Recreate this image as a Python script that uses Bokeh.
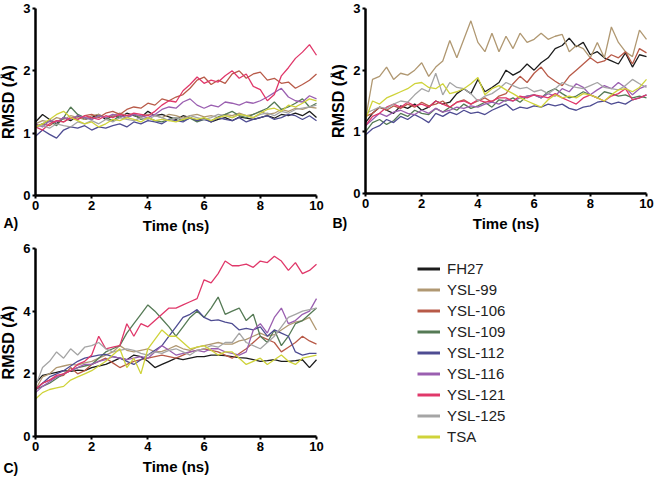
from bokeh.plotting import figure
from bokeh.layouts import column, row
from bokeh.models import Label, Legend, LegendItem, FixedTicker, Range1d
from bokeh.embed import file_html
from bokeh.resources import INLINE

TIME = [0.0, 0.25, 0.5, 0.75, 1.0, 1.25, 1.5, 1.75, 2.0, 2.25,
        2.5, 2.75, 3.0, 3.25, 3.5, 3.75, 4.0, 4.25, 4.5, 4.75,
        5.0, 5.25, 5.5, 5.75, 6.0, 6.25, 6.5, 6.75, 7.0, 7.25,
        7.5, 7.75, 8.0, 8.25, 8.5, 8.75, 9.0, 9.25, 9.5, 9.75,
        10.0]

SERIES = ["FH27", "YSL-99", "YSL-106", "YSL-109", "YSL-112",
          "YSL-116", "YSL-121", "YSL-125", "TSA"]
COLORS = ["#1c1c1c", "#b09872", "#b85a48", "#557a55", "#4e4c92",
          "#9a5fb0", "#e0386a", "#a5a5a5", "#cfd33a"]
X_TICKS = [0, 2, 4, 6, 8, 10]
Y_TICKS_AB = [0, 1, 2, 3]
Y_TICKS_C = [0, 2, 4, 6]

# ---- Panel A ----
A_FH27 = [1.18, 1.30, 1.22, 1.15, 1.25, 1.20, 1.28, 1.22, 1.25, 1.30,
          1.22, 1.28, 1.25, 1.32, 1.28, 1.25, 1.35, 1.28, 1.30, 1.26,
          1.22, 1.28, 1.25, 1.20, 1.24, 1.18, 1.22, 1.25, 1.20, 1.26,
          1.24, 1.22, 1.25, 1.28, 1.24, 1.30, 1.28, 1.32, 1.28, 1.35,
          1.25]
A_YSL99 = [1.15, 1.20, 1.18, 1.25, 1.22, 1.28, 1.25, 1.22, 1.28, 1.30,
           1.25, 1.28, 1.32, 1.28, 1.30, 1.26, 1.30, 1.28, 1.25, 1.30,
           1.28, 1.24, 1.28, 1.30, 1.26, 1.28, 1.25, 1.30, 1.28, 1.32,
           1.28, 1.30, 1.35, 1.30, 1.32, 1.38, 1.35, 1.40, 1.38, 1.42,
           1.40]
A_YSL106 = [1.10, 1.15, 1.12, 1.20, 1.18, 1.25, 1.22, 1.28, 1.30, 1.25,
            1.32, 1.35, 1.30, 1.38, 1.42, 1.40, 1.48, 1.45, 1.55, 1.52,
            1.58, 1.62, 1.72, 1.85, 1.90, 1.78, 1.85, 1.80, 1.95, 2.00,
            1.88, 1.95, 1.98, 1.85, 1.88, 1.80, 1.82, 1.72, 1.78, 1.85,
            1.95]
A_YSL109 = [1.10, 1.15, 1.20, 1.12, 1.25, 1.42, 1.30, 1.25, 1.22, 1.28,
            1.25, 1.20, 1.28, 1.25, 1.30, 1.22, 1.25, 1.20, 1.18, 1.22,
            1.25, 1.20, 1.24, 1.18, 1.22, 1.20, 1.26, 1.30, 1.35, 1.28,
            1.25, 1.30, 1.35, 1.40, 1.50, 1.38, 1.42, 1.48, 1.55, 1.42,
            1.48]
A_YSL112 = [0.95, 1.05, 0.98, 0.92, 1.05, 1.10, 1.08, 1.12, 1.05, 1.10,
            1.08, 1.12, 1.15, 1.10, 1.18, 1.15, 1.20, 1.18, 1.15, 1.22,
            1.20, 1.18, 1.25, 1.20, 1.22, 1.18, 1.25, 1.22, 1.20, 1.25,
            1.18, 1.22, 1.25, 1.28, 1.22, 1.25, 1.30, 1.28, 1.22, 1.28,
            1.20]
A_YSL116 = [1.15, 1.10, 1.20, 1.18, 1.25, 1.22, 1.28, 1.25, 1.22, 1.28,
            1.25, 1.30, 1.28, 1.25, 1.30, 1.28, 1.25, 1.30, 1.38, 1.42,
            1.40, 1.50, 1.55, 1.45, 1.40, 1.45, 1.42, 1.50, 1.48, 1.45,
            1.50, 1.48, 1.52, 1.58, 1.65, 1.72, 1.58, 1.52, 1.50, 1.60,
            1.55]
A_YSL121 = [1.10, 1.05, 1.15, 1.20, 1.18, 1.25, 1.22, 1.28, 1.25, 1.22,
            1.28, 1.25, 1.30, 1.28, 1.32, 1.30, 1.28, 1.35, 1.45, 1.52,
            1.50, 1.68, 1.78, 1.90, 1.80, 1.85, 1.82, 1.92, 2.00, 1.88,
            1.95, 1.75, 1.70, 1.52, 1.62, 1.92, 2.05, 2.20, 2.30, 2.42,
            2.25]
A_YSL125 = [1.10, 1.12, 1.08, 1.15, 1.12, 1.10, 1.18, 1.15, 1.20, 1.15,
            1.22, 1.18, 1.25, 1.22, 1.20, 1.25, 1.22, 1.28, 1.25, 1.20,
            1.25, 1.22, 1.28, 1.25, 1.22, 1.25, 1.30, 1.28, 1.25, 1.30,
            1.28, 1.25, 1.30, 1.32, 1.28, 1.35, 1.32, 1.38, 1.40, 1.42,
            1.45]
A_TSA = [1.10, 1.15, 1.22, 1.30, 1.35, 1.25, 1.20, 1.15, 1.18, 1.10,
         1.15, 1.22, 1.20, 1.25, 1.22, 1.18, 1.25, 1.20, 1.22, 1.20,
         1.18, 1.22, 1.25, 1.22, 1.25, 1.20, 1.25, 1.28, 1.25, 1.30,
         1.28, 1.25, 1.32, 1.38, 1.40, 1.35, 1.45, 1.42, 1.48, 1.55,
         1.52]

# ---- Panel B ----
B_FH27 = [1.15, 1.30, 1.40, 1.35, 1.30, 1.42, 1.38, 1.45, 1.35, 1.40,
          1.50, 1.45, 1.48, 1.62, 1.70, 1.62, 1.85, 1.65, 1.72, 1.80,
          2.00, 1.92, 1.98, 2.10, 2.00, 2.12, 2.20, 2.35, 2.40, 2.52,
          2.38, 2.45, 2.25, 2.30, 2.20, 2.15, 2.10, 2.28, 2.05, 2.25,
          2.22]
B_YSL99 = [1.20, 1.85, 1.90, 2.05, 1.85, 1.95, 1.92, 2.00, 2.12, 1.90,
           2.05, 2.15, 2.48, 2.20, 2.50, 2.80, 2.45, 2.30, 2.60, 2.30,
           2.55, 2.35, 2.60, 2.45, 2.50, 2.60, 2.50, 2.55, 2.58, 2.30,
           2.40, 2.35, 2.20, 2.45, 2.20, 2.70, 2.45, 2.30, 2.22, 2.65,
           2.50]
B_YSL106 = [1.25, 1.30, 1.40, 1.35, 1.42, 1.38, 1.45, 1.40, 1.48, 1.42,
            1.45, 1.50, 1.40, 1.48, 1.52, 1.45, 1.50, 1.55, 1.48, 1.58,
            1.62, 1.78, 1.90, 1.80, 1.95, 2.05, 1.90, 1.82, 1.75, 1.90,
            2.00, 2.10, 2.20, 2.12, 2.15, 2.25, 2.20, 2.30, 2.10, 2.35,
            2.28]
B_YSL109 = [1.00, 1.15, 1.20, 1.12, 1.18, 1.30, 1.25, 1.35, 1.30, 1.28,
            1.38, 1.32, 1.40, 1.35, 1.45, 1.38, 1.42, 1.48, 1.40, 1.52,
            1.50, 1.55, 1.48, 1.58, 1.60, 1.55, 1.65, 1.70, 1.62, 1.55,
            1.58, 1.65, 1.60, 1.55, 1.65, 1.62, 1.58, 1.60, 1.55, 1.58,
            1.55]
B_YSL112 = [0.95, 1.05, 1.10, 1.20, 1.15, 1.25, 1.20, 1.28, 1.22, 1.15,
            1.30, 1.25, 1.32, 1.28, 1.35, 1.30, 1.32, 1.28, 1.35, 1.40,
            1.45, 1.35, 1.40, 1.38, 1.42, 1.40, 1.45, 1.42, 1.45, 1.38,
            1.35, 1.40, 1.42, 1.48, 1.50, 1.45, 1.48, 1.45, 1.52, 1.55,
            1.60]
B_YSL116 = [1.10, 1.20, 1.30, 1.25, 1.32, 1.35, 1.30, 1.28, 1.35, 1.30,
            1.38, 1.32, 1.35, 1.40, 1.38, 1.42, 1.40, 1.45, 1.48, 1.45,
            1.52, 1.50, 1.55, 1.58, 1.60, 1.55, 1.62, 1.58, 1.70, 1.65,
            1.78, 1.72, 1.60, 1.68, 1.75, 1.70, 1.80, 1.72, 1.60, 1.70,
            1.75]
B_YSL121 = [1.10, 1.25, 1.30, 1.40, 1.45, 1.40, 1.48, 1.42, 1.45, 1.40,
            1.50, 1.45, 1.40, 1.48, 1.50, 1.45, 1.52, 1.48, 1.50, 1.55,
            1.55, 1.50, 1.58, 1.55, 1.60, 1.58, 1.55, 1.62, 1.55, 1.50,
            1.45, 1.55, 1.60, 1.55, 1.50, 1.58, 1.62, 1.70, 1.52, 1.55,
            1.60]
B_YSL125 = [1.30, 1.35, 1.40, 1.38, 1.45, 1.50, 1.48, 1.60, 1.70, 1.65,
            1.95, 1.60, 1.80, 1.72, 1.70, 1.62, 1.50, 1.58, 1.62, 1.70,
            1.80, 1.75, 1.70, 1.72, 1.65, 1.68, 1.62, 1.70, 1.80, 1.75,
            1.72, 1.70, 1.75, 1.80, 1.72, 1.70, 1.68, 1.75, 1.85, 1.78,
            1.72]
B_TSA = [1.20, 1.50, 1.45, 1.55, 1.60, 1.65, 1.70, 1.78, 1.80, 1.72,
         1.70, 1.78, 1.62, 1.65, 1.70, 1.78, 1.88, 1.60, 1.70, 1.75,
         1.68, 1.62, 1.55, 1.50, 1.45, 1.40, 1.52, 1.60, 1.55, 1.58,
         1.55, 1.62, 1.60, 1.55, 1.50, 1.60, 1.68, 1.70, 1.65, 1.72,
         1.85]

# ---- Panel C ----
C_FH27 = [1.70, 1.95, 2.00, 2.05, 2.10, 2.08, 2.12, 2.10, 2.20, 2.25,
          2.30, 2.40, 2.50, 2.45, 2.60, 2.55, 2.40, 2.20, 2.30, 2.40,
          2.50, 2.45, 2.50, 2.55, 2.55, 2.60, 2.60, 2.58, 2.55, 2.52,
          2.50, 2.45, 2.40, 2.42, 2.45, 2.40, 2.40, 2.42, 2.45, 2.20,
          2.45]
C_YSL99 = [1.50, 1.90, 2.00, 2.20, 2.25, 2.30, 2.28, 2.35, 2.40, 2.50,
           2.60, 2.70, 2.90, 2.75, 2.70, 2.75, 2.80, 2.70, 2.72, 2.80,
           2.90, 2.80, 2.75, 2.85, 2.90, 2.95, 3.00, 2.95, 2.95, 3.05,
           3.10, 3.20, 3.30, 3.20, 3.25, 3.40, 3.55, 3.65, 3.70, 3.80,
           3.40]
C_YSL106 = [1.50, 1.70, 1.80, 1.90, 1.95, 2.20, 2.00, 2.10, 2.30, 2.40,
            2.50, 2.35, 2.20, 2.30, 2.40, 2.45, 2.50, 2.55, 2.60, 2.55,
            2.50, 2.60, 2.70, 2.75, 2.80, 2.75, 2.70, 2.60, 2.50, 2.65,
            2.80, 3.00, 3.20, 3.10, 3.00, 2.70, 2.85, 3.00, 3.20, 3.05,
            2.95]
C_YSL109 = [1.50, 1.60, 1.70, 1.85, 2.00, 2.10, 2.20, 2.25, 2.30, 2.50,
            2.70, 2.80, 2.90, 3.30, 3.60, 3.90, 4.20, 4.00, 3.75, 3.50,
            3.20, 3.50, 3.80, 4.00, 3.80, 4.10, 4.45, 3.90, 4.00, 4.10,
            3.70, 3.90, 3.20, 3.00, 3.40, 2.90, 3.20, 3.60, 3.70, 3.90,
            4.10]
C_YSL112 = [1.50, 1.70, 1.90, 2.00, 2.10, 2.25, 2.40, 2.50, 2.55, 2.60,
            2.62, 2.55, 2.50, 2.40, 2.30, 2.45, 2.60, 2.75, 2.90, 3.20,
            3.50, 3.80, 3.90, 4.05, 3.80, 3.70, 3.72, 3.65, 3.60, 3.40,
            3.45, 3.40, 3.50, 3.20, 3.40, 3.30, 3.20, 2.70, 2.60, 2.65,
            2.65]
C_YSL116 = [1.40, 1.60, 1.75, 1.90, 2.00, 2.10, 2.20, 2.30, 2.30, 2.40,
            2.45, 2.55, 2.50, 2.45, 2.50, 2.55, 2.50, 2.70, 2.90, 2.75,
            2.60, 2.65, 2.70, 2.75, 2.70, 2.80, 2.80, 2.70, 2.65, 2.60,
            2.70, 3.40, 3.60, 3.30, 3.80, 4.10, 3.60, 3.70, 3.90, 4.00,
            4.40]
C_YSL121 = [1.50, 1.70, 1.80, 1.95, 2.00, 2.10, 2.30, 2.40, 2.60, 3.20,
            2.80, 2.85, 2.90, 3.60, 3.20, 3.60, 3.50, 3.70, 3.90, 4.10,
            4.10, 4.20, 4.30, 4.40, 5.00, 4.90, 5.20, 5.60, 5.45, 5.45,
            5.50, 5.40, 5.60, 5.55, 5.75, 5.60, 5.30, 5.55, 5.20, 5.30,
            5.50]
C_YSL125 = [1.60, 2.20, 2.40, 2.70, 2.50, 2.80, 2.60, 2.85, 2.90, 3.00,
            2.80, 2.70, 2.75, 2.80, 2.75, 2.65, 2.60, 2.70, 2.65, 2.75,
            2.80, 2.70, 2.60, 2.75, 2.80, 2.90, 2.85, 3.00, 3.00, 3.30,
            3.00, 2.90, 2.80, 3.00, 3.20, 3.50, 3.80, 3.90, 4.00, 4.05,
            4.10]
C_TSA = [1.20, 1.40, 1.50, 1.55, 1.60, 1.80, 1.90, 2.00, 2.10, 2.25,
         2.40, 2.60, 2.80, 2.20, 2.50, 2.00, 2.80, 3.10, 3.40, 3.20,
         3.20, 3.00, 2.80, 2.85, 2.90, 2.75, 2.60, 2.70, 2.70, 2.50,
         2.30, 2.40, 2.50, 2.30, 2.45, 2.60, 2.40, 2.30, 2.50, 2.55,
         2.60]

PANEL_A = [A_FH27, A_YSL99, A_YSL106, A_YSL109, A_YSL112, A_YSL116, A_YSL121, A_YSL125, A_TSA]
PANEL_B = [B_FH27, B_YSL99, B_YSL106, B_YSL109, B_YSL112, B_YSL116, B_YSL121, B_YSL125, B_TSA]
PANEL_C = [C_FH27, C_YSL99, C_YSL106, C_YSL109, C_YSL112, C_YSL116, C_YSL121, C_YSL125, C_TSA]

FONT = "Liberation Sans"


def make_panel(width, height, x0_px, x10_px, ytop_px, y0_px, ymax, yticks,
               data, tag, tag_px):
    """Figure whose frame fills the canvas; axes are pinned at x=0 / y=0."""
    sx = (x10_px - x0_px) / 10.0
    sy = (y0_px - ytop_px) / float(ymax)
    p = figure(width=width, height=height,
               x_range=Range1d(-x0_px / sx, (width - x0_px) / sx),
               y_range=Range1d(-(height - y0_px) / sy, ymax + ytop_px / sy),
               output_backend="svg", toolbar_location=None,
               min_border_left=0, min_border_right=0,
               min_border_top=0, min_border_bottom=0)
    p.outline_line_color = None
    p.grid.visible = False
    p.background_fill_color = "white"
    p.border_fill_color = "white"
    for vals, c in zip(data, COLORS):
        p.line(TIME, vals, line_color=c, line_width=1.3)
    p.xaxis.ticker = FixedTicker(ticks=X_TICKS)
    p.yaxis.ticker = FixedTicker(ticks=yticks)
    p.xaxis.fixed_location = 0
    p.yaxis.fixed_location = 0
    p.xaxis.bounds = (0, 10)
    p.yaxis.bounds = (0, ymax)
    p.xaxis.axis_label = "Time (ns)"
    p.yaxis.axis_label = "RMSD (Å)"
    for ax in (p.xaxis[0], p.yaxis[0]):
        ax.axis_line_width = 2.5
        ax.axis_line_color = "black"
        ax.major_tick_line_width = 2
        ax.major_tick_line_color = "black"
        ax.major_tick_in = 0
        ax.major_tick_out = 3
        ax.minor_tick_line_color = None
        ax.major_label_text_font = FONT
        ax.major_label_text_font_style = "bold"
        ax.major_label_text_font_size = "13px"
        ax.major_label_text_color = "black"
        ax.major_label_standoff = 2
        ax.axis_label_text_font = FONT
        ax.axis_label_text_font_style = "bold"
        ax.axis_label_text_color = "black"
    p.xaxis.axis_label_text_font_size = "15px"
    p.yaxis.axis_label_text_font_size = "16px"
    p.xaxis.axis_label_standoff = 4
    p.yaxis.axis_label_standoff = 3
    p.add_layout(Label(x=(tag_px[0] - x0_px) / sx, y=(y0_px - tag_px[1]) / sy,
                       text=tag, text_font=FONT,
                       text_font_style="bold", text_font_size="14px",
                       text_color="black", text_align="left",
                       text_baseline="middle"))
    return p


# panel geometry in pixels of each figure (axis origin, x=10, y top, y=0)
pA = make_panel(330, 240, 35, 316, 8, 195, 3, Y_TICKS_AB, PANEL_A, "A)", (3, 222.5))
pB = make_panel(326, 240, 35, 316, 8, 193, 3, Y_TICKS_AB, PANEL_B, "B)", (2, 222.5))
pC = make_panel(656, 238, 35, 316, 8, 196, 6, Y_TICKS_C, PANEL_C, "C)", (3, 227.5))

items = []
for name, c in zip(SERIES, COLORS):
    # swatch-only renderer: its points lie outside the visible range
    r = pC.line(x=[40, 41], y=[40, 41], line_color=c, line_width=3)
    items.append(LegendItem(label=name, renderers=[r]))
leg = Legend(items=items, location=(417, 31), margin=0, padding=0, spacing=0,
             glyph_width=23, glyph_height=21, label_height=21, label_standoff=7,
             border_line_color=None, background_fill_alpha=0,
             label_text_font=FONT, label_text_font_size="15px",
             label_text_color="#222222")
pC.add_layout(leg)

p = column(row(pA, pB), pC)

open("out.html", "w").write(file_html(p, INLINE))
